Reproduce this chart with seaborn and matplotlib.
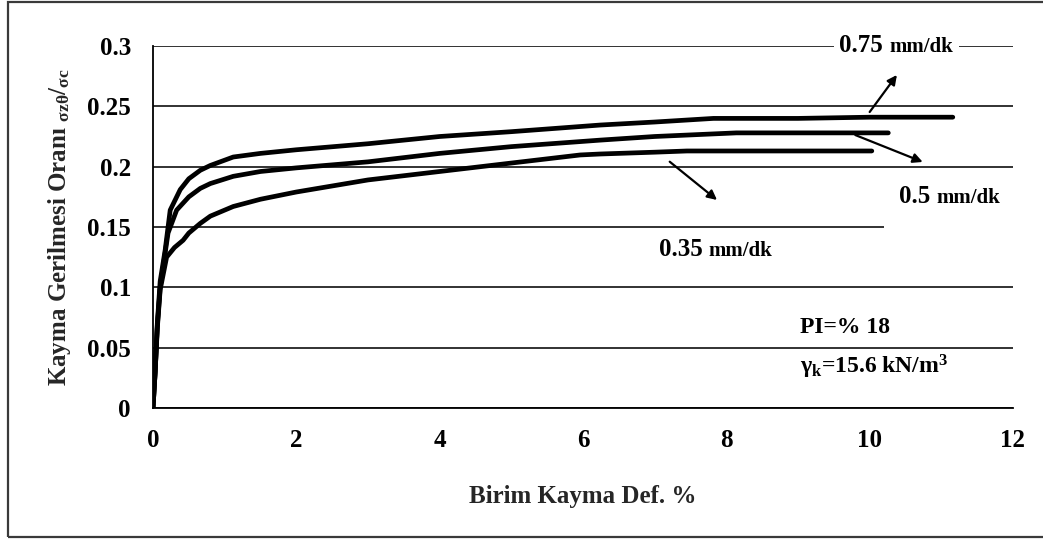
import matplotlib
matplotlib.use("Agg")
import matplotlib.pyplot as plt
import seaborn as sns
import pandas as pd
from matplotlib.patches import Rectangle
from matplotlib.offsetbox import TextArea, HPacker, AnnotationBbox

# ---------------- data ----------------
x_075 = [0, 0.03, 0.06, 0.10, 0.17, 0.24, 0.38, 0.50, 0.66, 0.80, 1.12, 1.5, 2.0, 3.0, 4.0, 5.0, 6.24, 7.0, 7.82, 9.0, 10.0, 11.16]
y_075 = [0, 0.030, 0.070, 0.105, 0.131, 0.164, 0.181, 0.190, 0.197, 0.201, 0.208, 0.211, 0.214, 0.219, 0.225, 0.229, 0.2345, 0.237, 0.240, 0.240, 0.241, 0.241]

x_050 = [0, 0.03, 0.06, 0.10, 0.21, 0.33, 0.50, 0.66, 0.80, 1.12, 1.5, 2.0, 3.0, 4.0, 5.0, 6.24, 7.0, 8.14, 9.0, 10.26]
y_050 = [0, 0.030, 0.068, 0.100, 0.145, 0.164, 0.175, 0.182, 0.186, 0.192, 0.196, 0.199, 0.204, 0.211, 0.2166, 0.222, 0.225, 0.228, 0.228, 0.228]

x_035 = [0, 0.03, 0.06, 0.10, 0.19, 0.30, 0.42, 0.50, 0.66, 0.80, 1.12, 1.5, 2.0, 3.0, 4.0, 5.0, 5.96, 6.24, 7.0, 7.45, 8.5, 10.03]
y_035 = [0, 0.030, 0.066, 0.098, 0.125, 0.133, 0.139, 0.145, 0.153, 0.159, 0.167, 0.173, 0.179, 0.189, 0.196, 0.203, 0.2097, 0.2105, 0.212, 0.213, 0.213, 0.213]

series_labels = ["0.75", "0.5", "0.35"]
unit_label = "mm/dk"
x_ticks = [0, 2, 4, 6, 8, 10, 12]
y_ticks = [0, 0.05, 0.1, 0.15, 0.2, 0.25, 0.3]
y_tick_labels = ["0", "0.05", "0.1", "0.15", "0.2", "0.25", "0.3"]
x_label = "Birim Kayma Def. %"
y_label = "Kayma Gerilmesi Oranı $_{σzθ}$/$_{σc}$"
note_pi = "PI=% 18"
note_gamma = "γ$_{k}$=15.6 kN/m$^{3}$"

df = pd.concat([
    pd.DataFrame({"x": x_075, "y": y_075, "rate": series_labels[0]}),
    pd.DataFrame({"x": x_050, "y": y_050, "rate": series_labels[1]}),
    pd.DataFrame({"x": x_035, "y": y_035, "rate": series_labels[2]}),
], ignore_index=True)

# ---------------- style ----------------
sns.set_style("white")
plt.rcParams["font.family"] = ["Liberation Serif", "DejaVu Serif"]
plt.rcParams["font.weight"] = "bold"
plt.rcParams["mathtext.fontset"] = "custom"
plt.rcParams["mathtext.rm"] = "Liberation Serif:bold"
plt.rcParams["mathtext.it"] = "Liberation Serif:bold"
plt.rcParams["mathtext.bf"] = "Liberation Serif:bold"

fig = plt.figure(figsize=(10.43, 5.41), dpi=100)
ax = fig.add_axes([153 / 1043, 1 - 408 / 541, 860 / 1043, 362 / 541])

sns.lineplot(data=df, x="x", y="y", hue="rate", palette=["black"] * 3,
             sort=False, estimator=None, legend=False, linewidth=3.4, ax=ax,
             zorder=3)

ax.set_xlim(0, 12)
ax.set_ylim(0, 0.3)
ax.set_xticks(x_ticks)
ax.set_xticklabels([str(t) for t in x_ticks])
ax.set_yticks(y_ticks)
ax.set_yticklabels(y_tick_labels)

ax.set_axisbelow(True)
ax.yaxis.grid(True, color="#222222", linewidth=1.3)
ax.xaxis.grid(False)
for s in ["top", "right"]:
    ax.spines[s].set_visible(False)
for s in ["left", "bottom"]:
    ax.spines[s].set_color("black")
    ax.spines[s].set_linewidth(1.3)

ax.tick_params(axis="both", which="major", direction="out", length=7, width=1.3,
               color="black", labelsize=18, labelcolor="black")
ax.tick_params(axis="y", pad=9)
ax.tick_params(axis="x", pad=8)
for lab in ax.get_xticklabels() + ax.get_yticklabels():
    lab.set_fontweight("bold")

ax.set_xlabel(x_label, fontsize=18, fontweight="bold", labelpad=24)
ax.set_ylabel(y_label, fontsize=18, fontweight="bold", labelpad=10)

# white patch interrupting the 0.15 gridline on the right
ax.add_patch(Rectangle((10.2, 0.144), 2.0, 0.012, facecolor="white",
                       edgecolor="none", zorder=1, clip_on=False))


def rate_label(num, xy, white=True):
    t1 = TextArea(num + " ", textprops=dict(fontsize=18, fontweight="bold",
                                             color="black", family="Liberation Serif"))
    t2 = TextArea(unit_label, textprops=dict(fontsize=15, fontweight="bold",
                                              color="black", family="Liberation Serif"))
    box = HPacker(children=[t1, t2], align="baseline", pad=0, sep=0)
    ab = AnnotationBbox(box, xy, xycoords="data", frameon=white, pad=0.4,
                        bboxprops=dict(facecolor="white", edgecolor="none"),
                        box_alignment=(0.5, 0.5), zorder=4, annotation_clip=False)
    ax.add_artist(ab)


rate_label(series_labels[0], (10.37, 0.3008))
rate_label(series_labels[1], (11.12, 0.175))
rate_label(series_labels[2], (7.85, 0.131))

arrow = dict(arrowstyle="-|>", color="black", lw=1.6, mutation_scale=14,
             shrinkA=0, shrinkB=0)
ax.annotate("", xy=(10.38, 0.276), xytext=(10.0, 0.2453), arrowprops=arrow, zorder=5)
ax.annotate("", xy=(10.74, 0.2039), xytext=(9.80, 0.2262), arrowprops=arrow, zorder=5)
ax.annotate("", xy=(7.87, 0.1724), xytext=(7.21, 0.2041), arrowprops=arrow, zorder=5)

ax.text(9.03, 0.0663, note_pi, fontsize=17, fontweight="bold", color="black",
        ha="left", va="center", zorder=4)
ax.text(9.03, 0.0342, note_gamma, fontsize=17, fontweight="bold", color="black",
        ha="left", va="center", zorder=4)

# outer frame of the figure
fig.patches.append(Rectangle((8 / 1043, 1 - 537 / 541), 1.1, (535) / 541,
                             transform=fig.transFigure, fill=False,
                             edgecolor="#3a3a3a", linewidth=1.6))

fig.savefig("out.png", dpi=100, facecolor="white")
